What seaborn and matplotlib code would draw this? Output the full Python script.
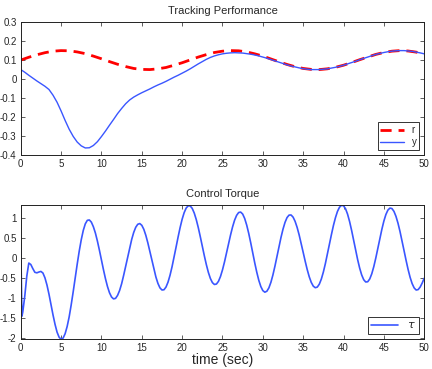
import numpy as np
import matplotlib
matplotlib.use("Agg")
import matplotlib.pyplot as plt
import seaborn as sns

# time grids (sec)
t_r = np.arange(0, 50.01, 1.0)
t_y = np.arange(0, 50.01, 0.5)
t_tau = np.insert(np.arange(0, 50.01, 0.25), 1, 0.15)

# reference r (1 s steps)
r_vals = [0.100, 0.115, 0.128, 0.139, 0.147, 0.150, 0.149, 0.143, 0.134, 0.121,
          0.107, 0.092, 0.078, 0.066, 0.056, 0.051, 0.050, 0.054, 0.061, 0.073,
          0.086, 0.101, 0.116, 0.129, 0.140, 0.147, 0.150, 0.149, 0.143, 0.133,
          0.121, 0.106, 0.091, 0.077, 0.065, 0.056, 0.051, 0.050, 0.054, 0.062,
          0.073, 0.087, 0.102, 0.116, 0.130, 0.140, 0.147, 0.150, 0.148, 0.142,
          0.133]

# output y (0.5 s steps)
y_vals = [0.050, 0.036, 0.020, 0.005, -0.010, -0.024, -0.038, -0.055, -0.085, -0.122,
          -0.168, -0.218, -0.264, -0.302, -0.332, -0.352, -0.363, -0.362, -0.350, -0.330,
          -0.303, -0.274, -0.243, -0.213, -0.182, -0.155, -0.130, -0.110, -0.095, -0.083,
          -0.072, -0.062, -0.052, -0.041, -0.031, -0.022, -0.012, -0.001, 0.010, 0.020,
          0.031, 0.042, 0.054, 0.067, 0.080, 0.092, 0.104, 0.114, 0.122, 0.128,
          0.133, 0.136, 0.138, 0.139, 0.138, 0.137, 0.134, 0.131, 0.127, 0.122,
          0.116, 0.110, 0.103, 0.096, 0.089, 0.082, 0.075, 0.069, 0.064, 0.059,
          0.055, 0.052, 0.050, 0.050, 0.050, 0.052, 0.054, 0.058, 0.062, 0.067,
          0.073, 0.080, 0.087, 0.094, 0.102, 0.109, 0.116, 0.123, 0.130, 0.135,
          0.140, 0.144, 0.147, 0.149, 0.150, 0.150, 0.148, 0.146, 0.142, 0.138,
          0.133]

# control torque: t = 0, 0.15, then 0.25 s steps
tau_vals = [0.38, -1.45,
            -1.35, -0.95, -0.45, -0.12, -0.157, -0.26, -0.352, -0.365, -0.345, -0.33,      # 0.25 - 2.5
            -0.37, -0.49, -0.67, -0.90, -1.159, -1.42, -1.655, -1.85, -1.976, -2.03,       # 2.75 - 5.0
            -2.00, -1.89, -1.71, -1.47, -1.17, -0.84, -0.49, -0.145, 0.18, 0.465,          # 5.25 - 7.5
            0.697, 0.862, 0.95, 0.96, 0.905, 0.79, 0.633, 0.431, 0.201, -0.042,            # 7.75 - 10.0
            -0.285, -0.512, -0.709, -0.865, -0.970, -1.018, -1.005, -0.93, -0.808, -0.64,  # 10.25 - 12.5
            -0.430, -0.203, 0.034, 0.263, 0.472, 0.647, 0.776, 0.851, 0.869, 0.826,       # 12.75 - 15.0
            0.726, 0.575, 0.386, 0.170, -0.055, -0.274, -0.470, -0.630, -0.741, -0.795,    # 15.25 - 17.5
            -0.789, -0.722, -0.599, -0.426, -0.213, 0.027, 0.280, 0.532, 0.769, 0.977,     # 17.75 - 20.0
            1.142, 1.257, 1.314, 1.311, 1.249, 1.133, 0.970, 0.769, 0.541, 0.300,          # 20.25 - 22.5
            0.063, -0.159, -0.353, -0.506, -0.610, -0.657, -0.646, -0.579, -0.458, -0.292, # 22.75 - 25.0
            -0.092, 0.131, 0.361, 0.583, 0.785, 0.953, 1.074, 1.145, 1.157, 1.108,         # 25.25 - 27.5
            0.997, 0.832, 0.625, 0.387, 0.135, -0.117, -0.350, -0.552, -0.708, -0.810,     # 27.75 - 30.0
            -0.85, -0.826, -0.742, -0.603, -0.418, -0.198, 0.042, 0.287, 0.521, 0.729,     # 30.25 - 32.5
            0.899, 1.019, 1.081, 1.084, 1.030, 0.924, 0.773, 0.585, 0.372, 0.148,          # 32.75 - 35.0
            -0.075, -0.283, -0.463, -0.604, -0.698, -0.738, -0.722, -0.649, -0.521, -0.346,# 35.25 - 37.5
            -0.134, 0.102, 0.350, 0.593, 0.822, 1.017, 1.174, 1.278, 1.327, 1.315,         # 37.75 - 40.0
            1.240, 1.105, 0.921, 0.700, 0.456, 0.206, -0.035, -0.247, -0.418, -0.537,      # 40.25 - 42.5
            -0.595, -0.588, -0.518, -0.389, -0.210, 0.007, 0.246, 0.492, 0.725, 0.932,     # 42.75 - 45.0
            1.096, 1.207, 1.257, 1.245, 1.174, 1.049, 0.878, 0.669, 0.436, 0.191,          # 45.25 - 47.5
            -0.052, -0.279, -0.477, -0.634, -0.742, -0.796, -0.785, -0.72, -0.62, -0.50]   # 47.75 - 50.0

x_ticks = list(range(0, 51, 5))
top_yticks = [-0.4, -0.3, -0.2, -0.1, 0, 0.1, 0.2, 0.3]
bot_yticks = [-2, -1.5, -1, -0.5, 0, 0.5, 1]

sns.set_style("ticks")
plt.rcParams['font.family'] = ['Liberation Sans', 'DejaVu Sans']
plt.rcParams['axes.unicode_minus'] = False

fig = plt.figure(figsize=(4.32, 3.69), dpi=100)
ax1 = fig.add_axes([0.048, 0.580, 0.934, 0.360])
ax2 = fig.add_axes([0.048, 0.0805, 0.934, 0.3635])

blue = '#3a56ff'
sns.lineplot(x=t_r, y=r_vals, ax=ax1, color='red', linewidth=2.0,
             linestyle='--', label='r', estimator=None)
sns.lineplot(x=t_y, y=y_vals, ax=ax1, color=blue, linewidth=1.0,
             label='y', estimator=None)
ax1.lines[0].set_dashes([4, 2.5])
sns.lineplot(x=t_tau, y=tau_vals, ax=ax2, color=blue, linewidth=1.2,
             label=r'$\tau$', estimator=None)

ax1.set_xlim(0, 50)
ax1.set_ylim(-0.4, 0.3)
ax1.set_yticks(top_yticks)
ax1.set_yticklabels(['-0.4', '-0.3', '-0.2', '-0.1', '0', '0.1', '0.2', '0.3'])
ax2.set_xlim(0, 50)
ax2.set_ylim(-2.03, 1.33)
ax2.set_yticks(bot_yticks)
ax2.set_yticklabels(['-2', '-1.5', '-1', '-0.5', '0', '0.5', '1'])

for ax in (ax1, ax2):
    ax.set_xticks(x_ticks)
    ax.tick_params(direction='in', top=True, right=True, length=3, width=0.6,
                   labelsize=7, pad=3, color='#444444')
    for s in ax.spines.values():
        s.set_visible(True)
        s.set_linewidth(0.7)
        s.set_color('#222222')
    ax.set_xlabel('')
    ax.set_ylabel('')

ax1.set_title('Tracking Performance', fontsize=8, pad=6)
ax2.set_title('Control Torque', fontsize=8, pad=6)
ax2.set_xlabel('time (sec)', fontsize=10, labelpad=0)

leg1 = ax1.legend(loc='lower right', fontsize=7, frameon=True, fancybox=False,
                  handlelength=2.4, borderpad=0.3, labelspacing=0.2, handletextpad=0.8,
                  borderaxespad=0.5)
leg1.get_frame().set_edgecolor('black')
leg1.get_frame().set_linewidth(0.7)
leg2 = ax2.legend(loc='lower right', fontsize=8, frameon=True, fancybox=False,
                  handlelength=2.4, borderpad=0.3, handletextpad=0.8, borderaxespad=0.5)
leg2.get_frame().set_edgecolor('black')
leg2.get_frame().set_linewidth(0.7)

fig.savefig('out.png', dpi=100)
